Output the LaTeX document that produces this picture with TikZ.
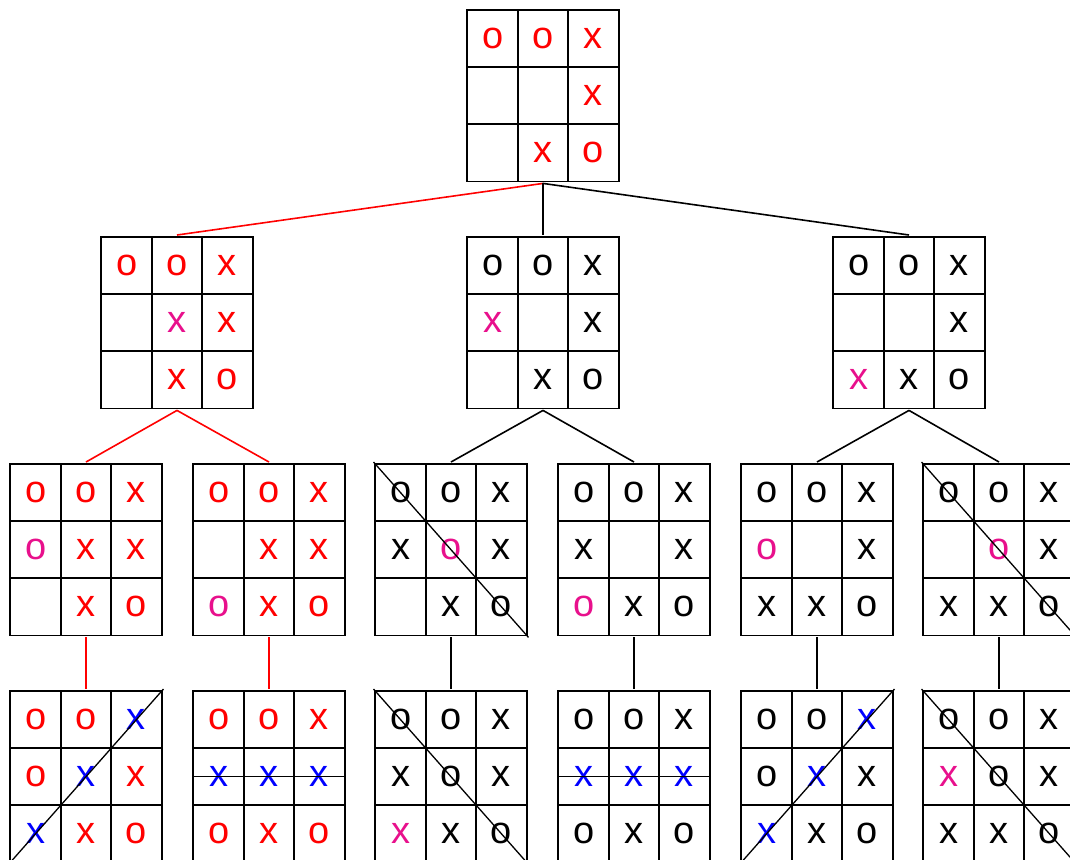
\documentclass[tikz,border=0pt]{standalone}
\usepackage{fontspec}
\setmainfont{Liberation Sans}
\usepackage{tikz}
\usetikzlibrary{matrix}
\definecolor{wred}{HTML}{FF0000}
\definecolor{wblue}{HTML}{0000FF}
\definecolor{mvpink}{HTML}{E8108C}
\tikzset{
  board/.style={matrix of nodes, nodes in empty cells, inner sep=0pt, anchor=north,
    line width=0.95pt, column sep=-\pgflinewidth, row sep=-\pgflinewidth,
    nodes={draw, minimum width=25.2pt, minimum height=28.6pt, inner sep=0pt,
      anchor=center, font=\fontsize{19}{19}\selectfont}},
  redboard/.style={board, nodes={text=wred}},
  nw/.style={text=mvpink},
  wn/.style={text=wblue},
  link/.style={line width=0.8pt},
  redlink/.style={link, wred},
  strike/.style={line width=0.65pt}
}

\begin{document}
\begin{tikzpicture}[x=0.5pt,y=-0.5pt]
\useasboundingbox (0,0) rectangle (1070,859);
% start position
\matrix (root) [redboard] at (543,8) {
  o & o & x \\
    &   & x \\
    & x & o \\
};
% first move of x
\matrix (L) [redboard] at (177,235) {
  o & o & x \\
    & |[nw]| x & x \\
    & x & o \\
};
\matrix (M) [board] at (543,235) {
  o & o & x \\
  |[nw]| x &  & x \\
    & x & o \\
};
\matrix (R) [board] at (909,235) {
  o & o & x \\
    &   & x \\
  |[nw]| x & x & o \\
};
% answer of o
\matrix (LL) [redboard] at (86,462) {
  o & o & x \\
  |[nw]| o & x & x \\
    & x & o \\
};
\matrix (LR) [redboard] at (269,462) {
  o & o & x \\
    & x & x \\
  |[nw]| o & x & o \\
};
\matrix (ML) [board] at (451,462) {
  o & o & x \\
  x & |[nw]| o & x \\
    & x & o \\
};
\matrix (MR) [board] at (634,462) {
  o & o & x \\
  x &   & x \\
  |[nw]| o & x & o \\
};
\matrix (RL) [board] at (817,462) {
  o & o & x \\
  |[nw]| o &  & x \\
  x & x & o \\
};
\matrix (RR) [board] at (999,462) {
  o & o & x \\
    & |[nw]| o & x \\
  x & x & o \\
};
% last move
\matrix (LLe) [redboard] at (86,689) {
  o & o & |[wn]| x \\
  o & |[wn]| x & x \\
  |[wn]| x & x & o \\
};
\matrix (LRe) [redboard] at (269,689) {
  o & o & x \\
  |[wn]| x & |[wn]| x & |[wn]| x \\
  o & x & o \\
};
\matrix (MLe) [board] at (451,689) {
  o & o & x \\
  x & o & x \\
  |[nw]| x & x & o \\
};
\matrix (MRe) [board] at (634,689) {
  o & o & x \\
  |[wn]| x & |[wn]| x & |[wn]| x \\
  o & x & o \\
};
\matrix (RLe) [board] at (817,689) {
  o & o & |[wn]| x \\
  o & |[wn]| x & x \\
  |[wn]| x & x & o \\
};
\matrix (RRe) [board] at (999,689) {
  o & o & x \\
  |[nw]| x & o & x \\
  x & x & o \\
};
% three in a row
\draw[strike] (ML.north west) -- (ML.south east);
\draw[strike] (RR.north west) -- (RR.south east);
\draw[strike] (LLe.south west) -- (LLe.north east);
\draw[strike] (LRe-2-1.west) -- (LRe-2-3.east);
\draw[strike] (MLe.north west) -- (MLe.south east);
\draw[strike] (MRe-2-1.west) -- (MRe-2-3.east);
\draw[strike] (RLe.south west) -- (RLe.north east);
\draw[strike] (RRe.north west) -- (RRe.south east);
% tree
\draw[redlink] (root.south) -- (L.north);
\draw[link] (root.south) -- (M.north);
\draw[link] (root.south) -- (R.north);
\draw[redlink] (L.south) -- (LL.north);
\draw[redlink] (L.south) -- (LR.north);
\draw[link] (M.south) -- (ML.north);
\draw[link] (M.south) -- (MR.north);
\draw[link] (R.south) -- (RL.north);
\draw[link] (R.south) -- (RR.north);
\draw[redlink] (LL.south) -- (LLe.north);
\draw[redlink] (LR.south) -- (LRe.north);
\foreach \b in {ML,MR,RL,RR}
  \draw[link] (\b.south) -- (\b e.north);
\end{tikzpicture}
\end{document}
